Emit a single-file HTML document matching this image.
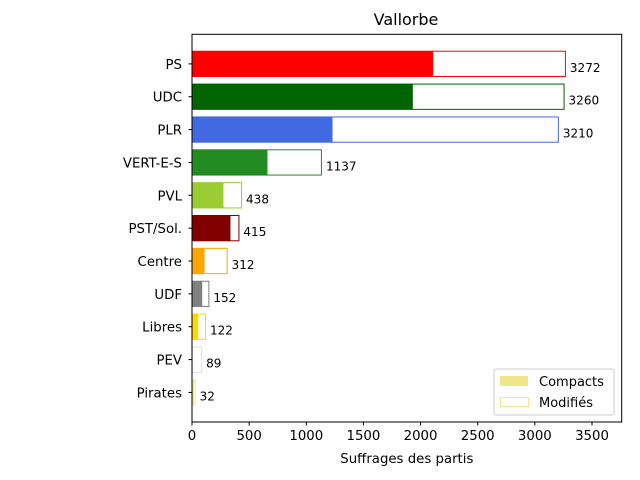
<!DOCTYPE html>
<html><head><meta charset="utf-8"><style>
body{margin:0;background:#fff;}
svg{display:block;font-family:"DejaVu Sans","Liberation Sans",sans-serif;}
</style></head><body>
<svg width="640" height="480" viewBox="0 0 640 480">
<text x="406" y="25" font-size="16" text-anchor="middle">Vallorbe</text>
<g id="bars"></g>
<g id="axes"></g>
<g>
<rect x="494" y="369" width="120" height="46" rx="2" fill="#fff" fill-opacity="0.8" stroke="#ccc"/>
<rect x="500" y="376" width="28" height="10" fill="#f0e68c"/>
<text x="539" y="386" font-size="13">Compacts</text>
<rect x="500.5" y="397.5" width="28" height="9" fill="#fff" stroke="#f0e68c"/>
<text x="539" y="407" font-size="13">Modifiés</text>
</g>
</svg>
<script>
const parties=["PS","UDC","PLR","VERT-E-S","PVL","PST/Sol.","Centre","UDF","Libres","PEV","Pirates"];
const totals=[3272,3260,3210,1137,438,415,312,152,122,89,32];
const compacts=[2106,1928,1225,656,271,332,105,85,50,2,12];
const colors=["#ff0000","#006400","#4169e1","#228b22","#9acd32","#800000","#ffa500","#808080","#ffd700","#dddddd","#f5e68c"];
const xTicks=[0,500,1000,1500,2000,2500,3000,3500];
const L=192,R=621.7,T=34.3,B=422,XMAX=3760;
const x=v=>L+v/XMAX*(R-L);
const step=(B-T)/11.8;
const y=i=>T+(0.9+i)*step;
const NS="http://www.w3.org/2000/svg";
const bars=document.getElementById('bars'),axes=document.getElementById('axes');
function mk(tag,attrs,parent){const e=document.createElementNS(NS,tag);for(const k in attrs)e.setAttribute(k,attrs[k]);parent.appendChild(e);return e;}
parties.forEach((p,i)=>{
  const h=step*0.8,cy=y(i);
  const m=mk('rect',{x:x(compacts[i]),y:cy-h/2+0.5,width:Math.max(0,x(totals[i])-x(compacts[i])-0.5),height:h-1,fill:'#fff',stroke:colors[i],'stroke-width':1},bars);
  
  
  const c=mk('rect',{x:L,y:cy-h/2,width:x(compacts[i])-L,height:h,fill:colors[i]},bars);
  
  
  const t=mk('text',{x:x(totals[i])+4,y:cy+8,'font-size':12},bars);
  t.textContent=totals[i];
  
  
  const yl=mk('text',{x:L-10,y:cy+5,'font-size':13.3,'text-anchor':'end'},axes);
  yl.textContent=p;
  
  
  mk('line',{x1:L-3.5,x2:L,y1:cy,y2:cy,stroke:'#000'},axes);
});
xTicks.forEach(v=>{
  mk('line',{x1:x(v),x2:x(v),y1:B,y2:B+3.5,stroke:'#000'},axes);
  const t=mk('text',{x:x(v),y:B+18,'font-size':13.3,'text-anchor':'middle'},axes);
  t.textContent=v;
  
  
});
const f=mk('rect',{x:L,y:T,width:R-L,height:B-T,fill:'none',stroke:'#000','stroke-width':1},axes);


const xt=mk('text',{x:(L+R)/2,y:463,'font-size':13.3,'text-anchor':'middle'},axes);
xt.textContent='Suffrages des partis';


</script>
</body></html>
